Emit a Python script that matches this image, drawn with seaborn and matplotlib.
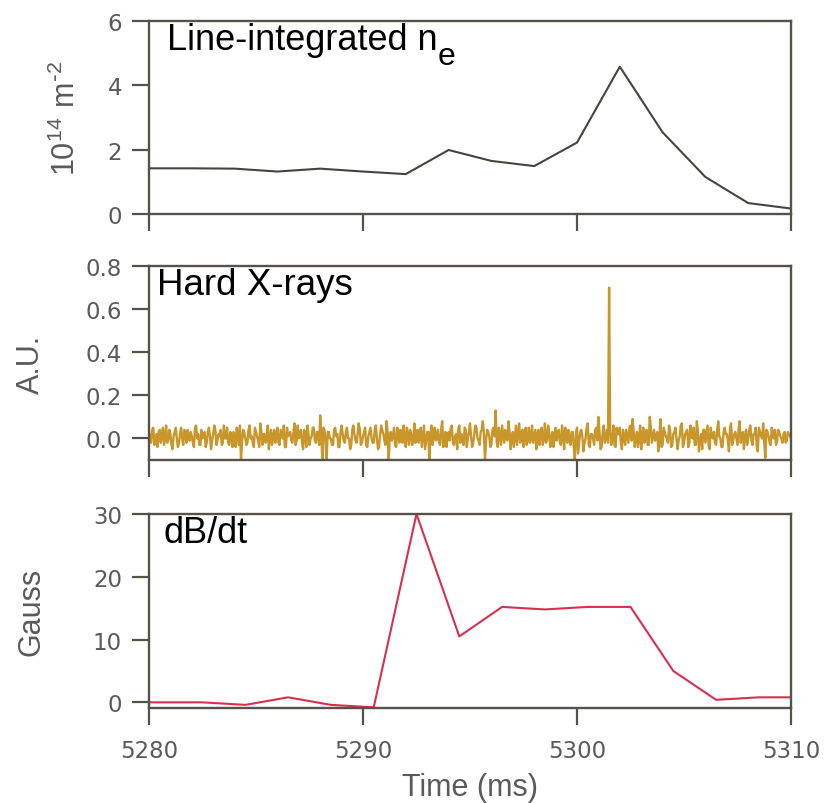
import numpy as np
import pandas as pd
import matplotlib
matplotlib.use("Agg")
import matplotlib.pyplot as plt
import seaborn as sns

# ---------------- data ----------------
ne_time = [5280, 5282, 5284, 5286, 5288, 5290, 5292, 5294, 5296, 5298,
           5300, 5302, 5304, 5306, 5308, 5310]
ne_vals = [1.42, 1.42, 1.41, 1.32, 1.41, 1.32, 1.24, 1.99, 1.65, 1.49,
           2.22, 4.58, 2.54, 1.15, 0.34, 0.17]

# hard X-ray samples on the 0.1 ms grid (t = 5280.0 + 0.1*i)
hxr_t0 = 5280.0
hxr_dt = 0.1
hxr_vals = [
    0.03, -0.02, 0.05, 0.00, -0.04, 0.04, 0.01, -0.03, 0.06, -0.01, 0.02, -0.05, 0.03, 0.00, -0.02, 0.05, -0.03, 0.02, 0.04, -0.01,
    0.01, -0.04, 0.06, 0.02, -0.03, 0.00, 0.03, -0.02, 0.05, -0.05, 0.02, 0.04, -0.01, 0.01, -0.03, 0.06, 0.00, -0.02, 0.03, -0.04,
    0.02, 0.05, -0.03, -0.105, 0.04, 0.00, -0.02, 0.06, 0.01, -0.04, 0.03, -0.01, 0.07, -0.03, 0.02, 0.00, -0.05, 0.04, 0.01, -0.02,
    0.05, -0.03, 0.02, 0.06, -0.04, 0.01, 0.03, -0.02, 0.07, -0.01, 0.00, 0.04, -0.05, 0.02, 0.06, -0.03, 0.01, 0.05, -0.02, 0.03,
    0.107, -0.105, 0.04, -0.10, 0.03, 0.00, -0.03, 0.05, 0.02, -0.04, 0.06, -0.01, 0.03, 0.00, -0.05, 0.04, 0.02, -0.02, 0.07, -0.03,
    0.01, 0.05, -0.04, 0.03, 0.00, -0.02, 0.06, -0.05, 0.02, 0.04, -0.01, 0.08, -0.10, 0.03, 0.01, -0.03, 0.05, -0.02, 0.00, 0.06,
    -0.04, 0.02, 0.04, -0.03, 0.07, 0.00, -0.02, 0.05, 0.01, -0.05, 0.03, -0.10, 0.06, 0.02, -0.01, 0.04, -0.03, 0.08, 0.00, -0.04,
    0.03, 0.05, -0.02, 0.01, -0.05, 0.06, 0.02, -0.03, 0.04, 0.00, 0.07, -0.04, 0.02, 0.05, -0.01, 0.03, 0.08, -0.10, 0.04, 0.01,
    -0.03, 0.05, 0.13, -0.04, 0.02, 0.06, -0.02, 0.00, 0.08, -0.05, 0.03, 0.01, -0.03, 0.07, 0.02, -0.04, 0.05, 0.00, -0.02, 0.06,
    0.01, -0.05, 0.04, 0.02, -0.03, 0.07, -0.01, 0.03, 0.00, -0.04, 0.05, 0.02, -0.02, 0.06, -0.05, 0.01, 0.04, -0.03, 0.03, -0.10,
    0.05, -0.02, 0.04, -0.06, 0.00, 0.07, -0.04, 0.02, -0.03, 0.05, 0.10, -0.05, 0.03, -0.02, 0.04, 0.70, -0.03, 0.06, -0.04, 0.02,
    0.05, -0.05, 0.01, 0.04, -0.02, 0.06, 0.09, -0.04, 0.03, 0.00, -0.05, 0.05, 0.02, -0.03, 0.10, -0.02, 0.04, 0.01, -0.06, 0.09,
    -0.03, 0.03, 0.00, 0.06, -0.04, 0.02, 0.05, -0.05, 0.01, 0.07, -0.02, 0.03, -0.04, 0.06, 0.00, -0.03, 0.08, -0.06, 0.02, 0.04,
    -0.02, 0.06, -0.05, 0.01, 0.03, -0.03, 0.08, 0.00, -0.04, 0.05, 0.02, -0.06, 0.07, -0.01, 0.03, -0.03, 0.08, 0.01, -0.05, 0.04,
    0.00, 0.06, -0.03, 0.02, -0.04, 0.05, 0.01, 0.07, -0.09, 0.03, -0.02, 0.05, 0.00, -0.03, 0.04, 0.01, -0.02, 0.03, -0.01, 0.02,
    0.00,
]
# hard X-ray samples at the half steps (t = 5280.05 + 0.1*i)
hxr_mid_t0 = 5280.05
hxr_mid_vals = [
    -0.01, 0.04, -0.03, 0.02, 0.03, -0.02, 0.05, 0.00, -0.02, 0.04, -0.03, 0.01, 0.05, -0.04, 0.02, 0.00, 0.04, -0.02, 0.01, 0.03,
    -0.02, 0.05, 0.00, -0.03, 0.04, 0.02, -0.04, 0.03, 0.01, -0.01, 0.06, -0.03, 0.02, 0.04, -0.02, 0.00, 0.05, -0.03, 0.01, 0.03,
    -0.04, 0.02, 0.06, -0.01, 0.03, -0.03, 0.04, 0.00, -0.02, 0.05, 0.01, -0.04, 0.03, 0.02, -0.02, 0.06, 0.00, -0.03, 0.04, 0.01,
    -0.02, 0.04, 0.00, -0.04, 0.05, 0.02, -0.01, 0.03, -0.03, 0.06, 0.01, -0.02, 0.04, -0.04, 0.02, 0.00, 0.05, -0.01, 0.03, -0.03,
    0.02, 0.05, -0.02, 0.03, 0.00, -0.03, 0.04, 0.01, -0.04, 0.03, 0.02, -0.02, 0.05, 0.00, -0.03, 0.06, -0.01, 0.02, 0.04, -0.02,
    0.03, -0.03, 0.01, 0.05, -0.02, 0.04, 0.00, -0.04, 0.06, 0.02, -0.03, 0.03, 0.01, -0.01, 0.05, -0.04, 0.02, 0.04, -0.02, 0.00,
    0.05, -0.03, 0.02, 0.00, -0.02, 0.04, 0.01, -0.04, 0.06, -0.01, 0.03, 0.02, -0.03, 0.05, 0.00, -0.02, 0.04, -0.04, 0.03, 0.01,
    -0.01, 0.06, -0.03, 0.02, 0.04, -0.02, 0.00, 0.05, -0.04, 0.03, 0.01, -0.02, 0.06, 0.00, -0.03, 0.04, 0.02, -0.01, 0.03, -0.04,
    0.04, 0.01, -0.02, 0.05, -0.03, 0.02, 0.04, -0.01, 0.03, 0.00, -0.04, 0.06, 0.02, -0.02, 0.04, 0.01, -0.03, 0.05, 0.00, -0.02,
    0.04, 0.02, -0.03, 0.05, 0.00, -0.02, 0.06, -0.04, 0.03, 0.01, -0.01, 0.04, -0.03, 0.02, 0.05, -0.02, 0.00, 0.03, -0.04, 0.02,
    -0.07, 0.03, 0.01, -0.02, 0.05, -0.03, 0.02, 0.00, 0.04, -0.01, 0.03, -0.04, 0.06, 0.01, -0.02, 0.03, 0.00, -0.03, 0.05, 0.02,
    -0.02, 0.04, -0.03, 0.01, 0.05, -0.01, 0.03, 0.00, -0.04, 0.06, 0.02, -0.02, 0.04, -0.03, 0.05, 0.01, -0.01, 0.03, 0.00, -0.04,
    0.05, 0.01, -0.02, 0.04, -0.03, 0.03, 0.00, -0.01, 0.06, -0.04, 0.02, 0.04, -0.02, 0.01, 0.05, -0.03, 0.03, 0.00, -0.05, 0.04,
    0.02, -0.03, 0.05, 0.00, -0.02, 0.04, 0.01, -0.04, 0.03, 0.02, -0.01, 0.05, -0.03, 0.02, 0.00, 0.04, -0.02, 0.03, 0.01, -0.03,
    0.04, -0.01, 0.02, 0.05, -0.06, 0.03, 0.00, -0.02, 0.04, 0.01, -0.03, 0.02, 0.04, -0.01, 0.03, 0.00, 0.02, -0.02, 0.03, 0.01,
]

db_time = [5278.5, 5280.5, 5282.5, 5284.5, 5286.5, 5288.5, 5290.5, 5292.5, 5294.5,
           5296.5, 5298.5, 5300.5, 5302.5, 5304.5, 5306.5, 5308.5, 5310.5]
db_vals = [0.0, 0.0, 0.0, -0.4, 0.8, -0.4, -0.8, 30.0, 10.5,
           15.2, 14.8, 15.2, 15.2, 5.0, 0.4, 0.8, 0.8]

x_ticks = [5280, 5290, 5300, 5310]
panel_titles = ["Line-integrated n", "Hard X-rays", "dB/dt"]
y_labels = ["$\\mathregular{10^{14}\\ m^{\\text{-}2}}$", "A.U.", "Gauss"]

# ---------------- style ----------------
sns.set_theme(style="ticks")
plt.rcParams["font.family"] = ["Liberation Sans", "DejaVu Sans"]
plt.rcParams["mathtext.default"] = "regular"

spine_col = "#55524A"
tick_lab_col = "#5A5A5A"
colors = ["#45443E", "#C8962A", "#D7304E"]

fig = plt.figure(figsize=(8.28, 8.04), dpi=100)
W, H = 828, 804
left, right = 149, 791
tops = [22, 267, 515]
bottoms = [215, 461, 709]
axes = []
for t, b in zip(tops, bottoms):
    ax = fig.add_axes([left / W, 1 - b / H, (right - left) / W, (b - t) / H])
    axes.append(ax)

hxr_df = pd.concat([
    pd.DataFrame({"t": [hxr_t0 + hxr_dt * i for i in range(len(hxr_vals))], "v": hxr_vals}),
    pd.DataFrame({"t": [hxr_mid_t0 + hxr_dt * i for i in range(len(hxr_mid_vals))], "v": hxr_mid_vals}),
]).sort_values("t").reset_index(drop=True)

frames = [
    pd.DataFrame({"t": ne_time, "v": ne_vals}),
    hxr_df,
    pd.DataFrame({"t": db_time, "v": db_vals}),
]
ylims = [(0, 6), (-0.1, 0.8), (-0.9, 30)]
yticks = [[0, 2, 4, 6], [0.0, 0.2, 0.4, 0.6, 0.8], [0, 10, 20, 30]]
yfmt = ["{:.0f}", "{:.1f}", "{:.0f}"]
lws = [1.5, 1.7, 1.5]
label_x = [-0.105, -0.16, -0.16]
title_x = [0.028, 0.013, 0.022]
title_fs = [26, 26.5, 26]

for i, ax in enumerate(axes):
    sns.lineplot(data=frames[i], x="t", y="v", ax=ax, color=colors[i],
                 lw=lws[i], sort=False, estimator=None)
    ax.set_xlim(5280, 5310)
    ax.set_ylim(*ylims[i])
    ax.set_yticks(yticks[i])
    ax.set_yticklabels([yfmt[i].format(v) for v in yticks[i]],
                       fontfamily="DejaVu Sans", fontsize=16.5, color=tick_lab_col)
    ax.set_xticks(x_ticks)
    if i < 2:
        ax.set_xticklabels([])
        ax.set_xlabel("")
    else:
        ax.set_xticklabels([str(v) for v in x_ticks], fontfamily="DejaVu Sans",
                           fontsize=16.5, color=tick_lab_col)
        ax.set_xlabel("Time (ms)", fontsize=22, color=tick_lab_col, labelpad=7)
    ax.tick_params(axis="both", direction="out", length=12.5, width=1.6,
                   color=spine_col, pad=7)
    ax.tick_params(axis="x", pad=10)
    for sp in ax.spines.values():
        sp.set_color(spine_col)
        sp.set_linewidth(1.7)
        sp.set_visible(True)
    ax.set_ylabel(y_labels[i], fontsize=22, color=tick_lab_col)
    ax.yaxis.set_label_coords(label_x[i], 0.5)
    ax.text(title_x[i], 0.995, panel_titles[i], transform=ax.transAxes,
            ha="left", va="top", fontsize=title_fs[i], color="black")

# subscript "e" of n_e, set nearly full size and low as in the original
axes[0].text(0.450, 0.775, "e", transform=axes[0].transAxes, ha="left",
             va="baseline", fontsize=23, color="black")

fig.savefig("out.png", dpi=100)
